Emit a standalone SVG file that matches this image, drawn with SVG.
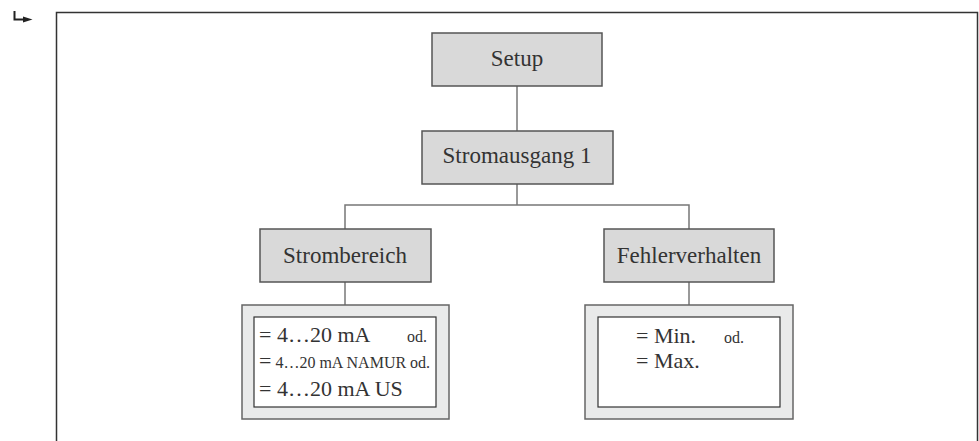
<svg xmlns="http://www.w3.org/2000/svg" width="979" height="441" viewBox="0 0 979 441">
<style>
.box{fill:#d9d9d9;stroke:#555;stroke-width:1.5}
.outer{fill:#e9eaea;stroke:#666;stroke-width:1.5}
.inner{fill:#fff;stroke:#333;stroke-width:1.2}
.conn{fill:none;stroke:#777;stroke-width:1.5}
text{font-family:"Liberation Serif","DejaVu Serif",serif;fill:#333}
.t{font-size:23px;text-anchor:middle}
.b{font-size:22px}
.s{font-size:16px}
</style>
<rect width="979" height="441" fill="#fff"/>
<g id="icon">
<path d="M14.5 11 V19.5 H25" fill="none" stroke="#222" stroke-width="2"/>
<path d="M23 16.5 L32.5 19.5 L23 22.5 Z" fill="#222"/>
</g>
<rect id="frame" x="56.5" y="12.5" width="921" height="440" fill="none" stroke="#333" stroke-width="1.5"/>
<g id="connectors">
<line class="conn" x1="517" y1="86" x2="517" y2="131"/>
<line class="conn" x1="517" y1="184" x2="517" y2="205"/>
<polyline class="conn" points="345,229 345,205 689,205 689,229"/>
<line class="conn" x1="345" y1="282" x2="345" y2="305"/>
<line class="conn" x1="689" y1="282" x2="689" y2="305"/>
</g>
<g id="setup">
<rect class="box" x="432" y="33" width="170" height="53"/>
<text class="t" x="517" y="66">Setup</text>
</g>
<g id="stromausgang">
<rect class="box" x="422" y="131" width="191" height="53"/>
<text class="t" x="517" y="163">Stromausgang 1</text>
</g>
<g id="strombereich">
<rect class="box" x="260" y="229" width="171" height="53"/>
<text class="t" x="345" y="263">Strombereich</text>
</g>
<g id="fehlerverhalten">
<rect class="box" x="604" y="229" width="170" height="53"/>
<text class="t" x="689" y="263">Fehlerverhalten</text>
</g>
<g id="strombereich-options">
<rect class="outer" x="242" y="305" width="207" height="114"/>
<rect class="inner" x="254" y="317" width="182" height="90"/>
<text class="b" x="259" y="342">= 4…20 mA</text>
<text class="s" x="407" y="342">od.</text>
<text x="259" y="368"><tspan class="b">=</tspan><tspan class="s"> 4…20 mA NAMUR od.</tspan></text>
<text class="b" x="259" y="396">= 4…20 mA US</text>
</g>
<g id="fehlerverhalten-options">
<rect class="outer" x="585" y="305" width="208" height="114"/>
<rect class="inner" x="598" y="317" width="182" height="90"/>
<text class="b" x="636" y="343">= Min.</text>
<text class="s" x="724" y="343">od.</text>
<text class="b" x="636" y="368">= Max.</text>
</g>
</svg>
